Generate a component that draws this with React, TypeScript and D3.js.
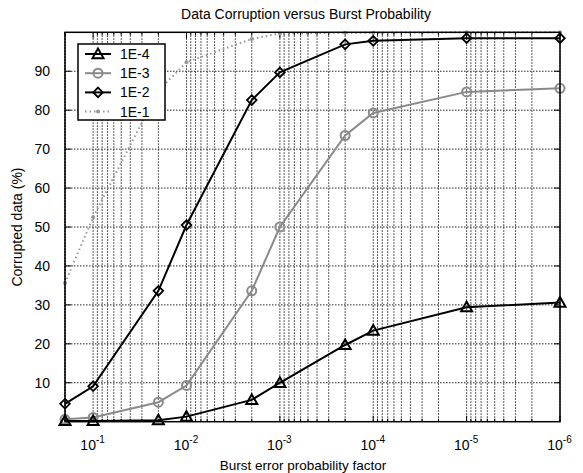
import React from "react";
import * as d3 from "d3";

const xValues = [0.2, 0.1, 0.02, 0.01, 0.002, 0.001, 0.0002, 0.0001, 0.00001, 0.000001];
const series1E4 = [0.2, 0.2, 0.4, 1.3, 5.6, 10, 19.7, 23.4, 29.4, 30.6];
const series1E3 = [0.6, 1.1, 5.0, 9.3, 33.6, 50.0, 73.5, 79.3, 84.7, 85.6];
const series1E2 = [4.6, 9.1, 33.6, 50.5, 82.6, 89.7, 96.9, 97.8, 98.5, 98.5];
const series1E1 = [35.6, 52.5, 85, 92.3, 98.3, 99.7, 99.9, 99.9, 100, 100];
const seriesNames = ["1E-4", "1E-3", "1E-2", "1E-1"];
const yTicks = [10, 20, 30, 40, 50, 60, 70, 80, 90];
const xMajor = [0.1, 0.01, 0.001, 0.0001, 0.00001, 0.000001];
const xExp = ["-1", "-2", "-3", "-4", "-5", "-6"];

const W = 583, H = 473;
const L = 65, R = 560, T = 32.3, B = 421.7;
const FONT = "'Liberation Sans', Arial, sans-serif";

export default function App() {
  const x = d3.scaleLog().domain([0.2, 1e-6]).range([L, R]);
  const y = d3.scaleLinear().domain([0, 100]).range([B, T]);

  const minor: number[] = [];
  for (let e = -1; e >= -6; e--) {
    for (let m = 1; m <= 9; m++) {
      const v = m * Math.pow(10, e);
      if (v <= 0.2 && v >= 1e-6) minor.push(v);
    }
  }
  minor.push(0.2);

  const line = d3.line<number>().x((_, i) => x(xValues[i])).y((d) => y(d));

  const grey = "#8a8a8a";

  const tri = (cx: number, cy: number, k: string) => {
    const s = 5.5;
    const p = `M${cx},${cy - s}L${cx + s},${cy + s * 0.75}L${cx - s},${cy + s * 0.75}Z`;
    return <path key={k} d={p} fill="none" stroke="#000" strokeWidth={2} />;
  };
  const dia = (cx: number, cy: number, k: string) => {
    const s = 4.8;
    const p = `M${cx},${cy - s}L${cx + s},${cy}L${cx},${cy + s}L${cx - s},${cy}Z`;
    return <path key={k} d={p} fill="none" stroke="#000" strokeWidth={1.8} />;
  };
  const circ = (cx: number, cy: number, k: string) => (
    <circle key={k} cx={cx} cy={cy} r={4.5} fill="none" stroke={grey} strokeWidth={2} />
  );

  const legX = 78, legY = 44, legW = 87, legH = 76;
  const rowY = (i: number) => legY + 10 + i * 19.2;

  return (
    <svg width={W} height={H} style={{ display: "block", position: "absolute", left: 0, top: 0 }} fontFamily={FONT}>
      <rect x={0} y={0} width={W} height={H} fill="#fff" />
      {/* grid */}
      <g stroke="#000" strokeWidth={1} strokeDasharray="1.5,1.5" opacity={0.85}>
        {yTicks.map((t) => (
          <line key={"h" + t} x1={L} x2={R} y1={y(t)} y2={y(t)} />
        ))}
        {minor.map((v, i) => (
          <line key={"v" + i} x1={x(v)} x2={x(v)} y1={T} y2={B} />
        ))}
      </g>
      {/* ticks */}
      <g stroke="#000" strokeWidth={1}>
        {yTicks.map((t) => (
          <g key={"yt" + t}>
            <line x1={L} x2={L + 6} y1={y(t)} y2={y(t)} />
            <line x1={R} x2={R - 6} y1={y(t)} y2={y(t)} />
          </g>
        ))}
        {minor.map((v, i) => {
          const major = xMajor.includes(v);
          const len = major ? 6 : 3;
          return (
            <g key={"xt" + i}>
              <line x1={x(v)} x2={x(v)} y1={B} y2={B - len} />
              <line x1={x(v)} x2={x(v)} y1={T} y2={T + len} />
            </g>
          );
        })}
      </g>
      {/* series 1E-1 */}
      <path d={line(series1E1) || ""} fill="none" stroke="#999" strokeWidth={2} strokeDasharray="1.5,3" />
      {series1E1.map((v, i) => (
        <circle key={"d1" + i} cx={x(xValues[i])} cy={y(v)} r={2} fill="#999" />
      ))}
      {/* series 1E-3 */}
      <path d={line(series1E3) || ""} fill="none" stroke={grey} strokeWidth={2} />
      {series1E3.map((v, i) => circ(x(xValues[i]), y(v), "c" + i))}
      {/* series 1E-2 */}
      <path d={line(series1E2) || ""} fill="none" stroke="#000" strokeWidth={2} />
      {series1E2.map((v, i) => dia(x(xValues[i]), y(v), "dd" + i))}
      {/* series 1E-4 */}
      <path d={line(series1E4) || ""} fill="none" stroke="#000" strokeWidth={2} />
      {series1E4.map((v, i) => tri(x(xValues[i]), y(v), "t" + i))}
      {/* border */}
      <rect x={L} y={T} width={R - L} height={B - T} fill="none" stroke="#000" strokeWidth={1.5} />
      {/* y tick labels */}
      {yTicks.map((t) => (
        <text key={"yl" + t} x={L - 15} y={y(t) + 5} fontSize={14} textAnchor="end" fill="#000">
          {t}
        </text>
      ))}
      {/* x tick labels */}
      {xMajor.map((v, i) => (
        <text key={"xl" + i} x={x(v) - 0.5} y={450} fontSize={14} textAnchor="middle" fill="#000">
          <tspan>10</tspan>
          <tspan dy={-7} fontSize={10}>{xExp[i]}</tspan>
        </text>
      ))}
      {/* title and axis labels */}
      <text x={306} y={19} fontSize={14} textAnchor="middle" fill="#000">
        Data Corruption versus Burst Probability
      </text>
      <text x={303} y={470} fontSize={13.5} textAnchor="middle" fill="#000">
        Burst error probability factor
      </text>
      <text transform={`translate(22,${(T + B) / 2}) rotate(-90)`} fontSize={14} textAnchor="middle" fill="#000">
        Corrupted data (%)
      </text>
      {/* legend */}
      <rect x={legX} y={legY} width={legW} height={legH} fill="#fff" stroke="#000" strokeWidth={1.5} />
      {seriesNames.map((n, i) => {
        const cy = rowY(i);
        const x1 = legX + 7, x2 = legX + 33, cx = (x1 + x2) / 2;
        let el: React.ReactNode = null;
        if (i === 0) el = <g><line x1={x1} x2={x2} y1={cy} y2={cy} stroke="#000" strokeWidth={2} />{tri(cx, cy, "lt")}</g>;
        if (i === 1) el = <g><line x1={x1} x2={x2} y1={cy} y2={cy} stroke={grey} strokeWidth={2} />{circ(cx, cy, "lc")}</g>;
        if (i === 2) el = <g><line x1={x1} x2={x2} y1={cy} y2={cy} stroke="#000" strokeWidth={2} />{dia(cx, cy, "ld")}</g>;
        if (i === 3) el = <g><line x1={x1} x2={x2} y1={cy} y2={cy} stroke="#999" strokeWidth={2} strokeDasharray="1.5,3" /><circle cx={cx} cy={cy} r={2} fill="#999" /></g>;
        return (
          <g key={"lg" + i}>
            {el}
            <text x={legX + 42} y={cy + 5} fontSize={14} fill="#000">{n}</text>
          </g>
        );
      })}
    </svg>
  );
}
